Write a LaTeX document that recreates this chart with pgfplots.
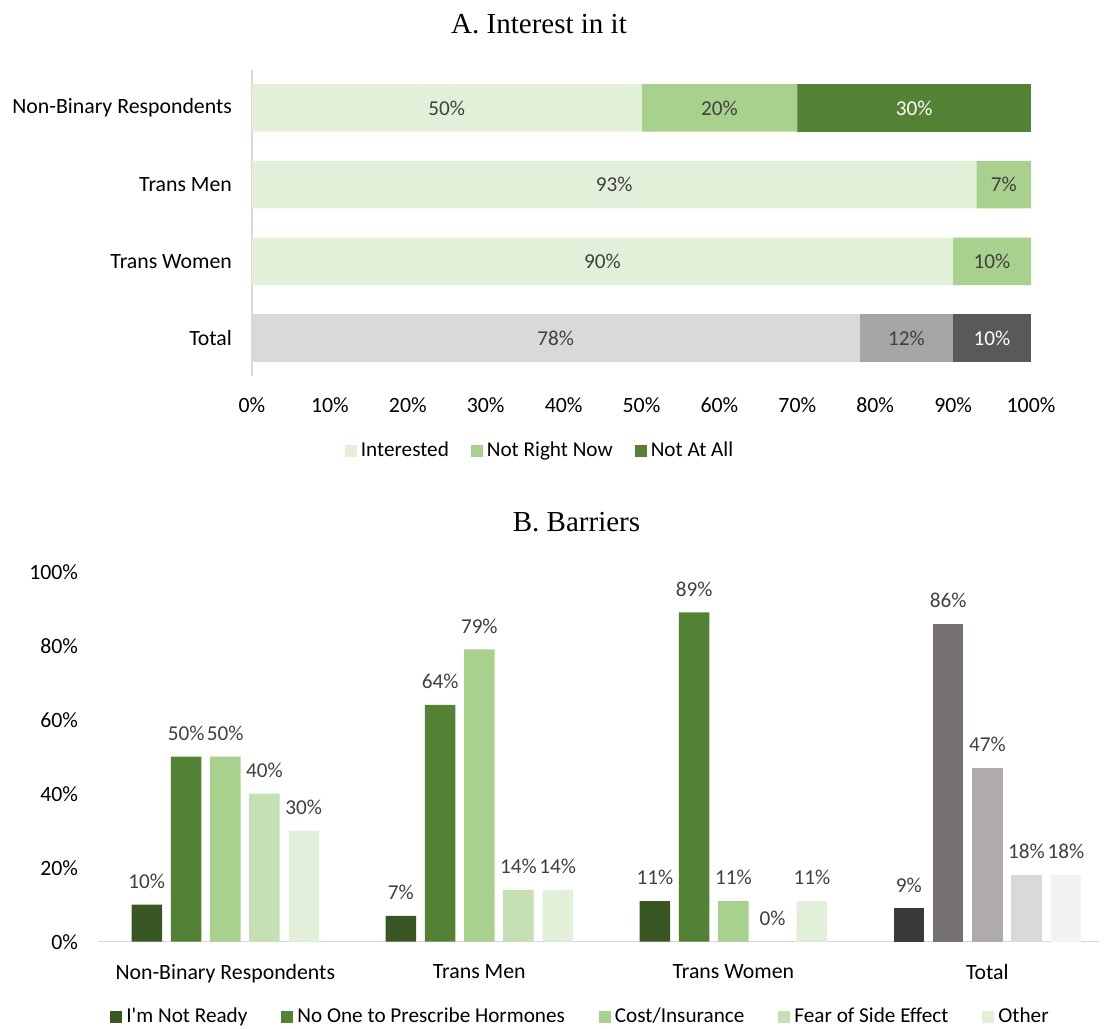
\documentclass[border=0pt]{standalone}
\usepackage{fontspec}
\setmainfont{Carlito}
\newfontfamily\titlefont{Liberation Serif}
\usepackage{pgfplots}
\pgfplotsset{compat=1.18}
\definecolor{gA}{HTML}{E2F0D9}
\definecolor{gB}{HTML}{A9D18E}
\definecolor{gC}{HTML}{548235}
\definecolor{gD}{HTML}{385723}
\definecolor{gE}{HTML}{C5E0B4}
\definecolor{tA}{HTML}{D9D9D9}
\definecolor{tB}{HTML}{A5A5A5}
\definecolor{tC}{HTML}{595959}
\definecolor{kA}{HTML}{3B3838}
\definecolor{kB}{HTML}{767171}
\definecolor{kC}{HTML}{AFABAB}
\definecolor{kD}{HTML}{D9D9D9}
\definecolor{kE}{HTML}{F2F2F2}
\definecolor{lbl}{HTML}{404040}
\definecolor{axl}{HTML}{D9D9D9}
\newcommand\fs{\fontsize{10.6}{12}\selectfont}
\newcommand\ft{\fontsize{10.9}{12}\selectfont}
\begin{document}
\begin{tikzpicture}
\useasboundingbox (0,0) rectangle (555.5pt,-514pt);
\node[anchor=base, font=\titlefont\fontsize{14.5}{16}\selectfont] at (269.5pt,-16.5pt) {A. Interest in it};
\node[anchor=base, font=\titlefont\fontsize{14.5}{16}\selectfont] at (288.25pt,-265.5pt) {B. Barriers};

% ---------------- Panel A: bars ----------------
\begin{axis}[
  at={(126pt,-188.15pt)}, anchor=south west,
  scale only axis, width=389.5pt, height=153.35pt,
  xmin=0, xmax=100, ymin=-0.5, ymax=3.5,
  enlargelimits=false, clip=false,
  xbar stacked, bar width=23.75pt,
  axis x line*=bottom, axis y line*=left,
  x axis line style={draw=none,-}, y axis line style={draw=axl, line width=0.75pt,-},
  major tick length=0pt,
  xtick={0,10,...,100},
  xticklabel={\pgfmathprintnumber{\tick}\%},
  ytick={0,1,2,3},
  yticklabels={Total,Trans Women,Trans Men,Non-Binary Respondents},
  /pgf/number format/assume math mode=true,
  tick label style={font=\ft, text=black},
  xticklabel style={yshift=-7.3pt},
  yticklabel style={xshift=-6.5pt},
  legend style={at={(0.371,-0.2436)}, anchor=center, draw=none, fill=none, font=\fs,
    legend columns=3, /tikz/every even column/.append style={column sep=9pt}},
  legend image code/.code={\fill[#1] (0pt,-3pt) rectangle (6pt,3pt);},
]
\addplot[fill=gA, draw=none] coordinates {(50,3) (93,2) (90,1) (0,0)};
\addplot[fill=gB, draw=none] coordinates {(20,3) (7,2) (10,1) (0,0)};
\addplot[fill=gC, draw=none] coordinates {(30,3) (0,2) (0,1) (0,0)};
\addplot[fill=tA, draw=none, forget plot] coordinates {(0,3) (0,2) (0,1) (78,0)};
\addplot[fill=tB, draw=none, forget plot] coordinates {(0,3) (0,2) (0,1) (12,0)};
\addplot[fill=tC, draw=none, forget plot] coordinates {(0,3) (0,2) (0,1) (10,0)};
\legend{Interested, Not Right Now, Not At All}
\end{axis}

% ---------------- Panel A: segment labels (overlay axis, same geometry) ----------------
\begin{axis}[
  at={(126pt,-188.15pt)}, anchor=south west,
  scale only axis, width=389.5pt, height=153.35pt,
  xmin=0, xmax=100, ymin=-0.5, ymax=3.5,
  enlargelimits=false, clip=false, hide axis,
  /pgf/number format/assume math mode=true,
]
\addplot[only marks, mark=none, point meta=explicit,
  nodes near coords={\pgfmathprintnumber{\pgfplotspointmeta}\%},
  nodes near coords align=center,
  every node near coord/.style={font=\fs, text=lbl, anchor=center}]
  coordinates {(25,3) [50] (60,3) [20] (46.5,2) [93] (96.5,2) [7] (45,1) [90] (95,1) [10] (39,0) [78] (84,0) [12]};
\addplot[only marks, mark=none, point meta=explicit,
  nodes near coords={\pgfmathprintnumber{\pgfplotspointmeta}\%},
  nodes near coords align=center,
  every node near coord/.style={font=\fs, text=white, anchor=center}]
  coordinates {(85,3) [30] (95,0) [10]};
\end{axis}

% ---------------- Panel B ----------------
\begin{axis}[
  at={(49.15pt,-470.85pt)}, anchor=south west,
  scale only axis, width=500.4pt, height=185pt,
  xmin=-0.5, xmax=3.44, ymin=0, ymax=100,
  enlargelimits=false, clip=false,
  ybar, bar width=15.25pt, bar shift=0pt,
  every axis plot/.append style={bar shift=0pt},
  axis x line*=bottom, axis y line*=left,
  x axis line style={draw=axl, line width=0.75pt,-}, y axis line style={draw=none,-},
  major tick length=0pt,
  xtick={0,1,2,3},
  xticklabels={Non-Binary Respondents,Trans Men,Trans Women,Total},
  ytick={0,20,...,100},
  yticklabel={\pgfmathprintnumber{\tick}\%},
  /pgf/number format/assume math mode=true,
  tick label style={font=\ft, text=black},
  xticklabel style={yshift=-8pt},
  yticklabel style={xshift=-6.6pt},
  nodes near coords={\pgfmathprintnumber{\pgfplotspointmeta}\%},
  every node near coord/.append style={font=\fs, text=lbl, yshift=4.5pt},
  legend style={at={(0.4828,-0.2027)}, anchor=center, draw=none, fill=none, font=\fs,
    legend columns=5, /tikz/every even column/.append style={column sep=15pt}},
  legend image code/.code={\fill[#1] (0pt,-3pt) rectangle (6pt,3pt);},
]
\addplot[fill=gD, draw=none] coordinates {(-0.309,10) (0.691,7) (1.691,11)};
\addplot[fill=gC, draw=none] coordinates {(-0.154,50) (0.846,64) (1.846,89)};
\addplot[fill=gB, draw=none] coordinates {(0,50) (1,79) (2,11)};
\addplot[fill=gE, draw=none] coordinates {(0.154,40) (1.154,14) (2.154,0)};
\addplot[fill=gA, draw=none] coordinates {(0.309,30) (1.309,14) (2.309,11)};
\legend{I\textquotesingle m Not Ready, No One to Prescribe Hormones, Cost/Insurance, Fear of Side Effect, Other}
\addplot[fill=kA, draw=none, forget plot] coordinates {(2.691,9)};
\addplot[fill=kB, draw=none, forget plot] coordinates {(2.846,86)};
\addplot[fill=kC, draw=none, forget plot] coordinates {(3,47)};
\addplot[fill=kD, draw=none, forget plot] coordinates {(3.154,18)};
\addplot[fill=kE, draw=none, forget plot] coordinates {(3.309,18)};
\end{axis}
\end{tikzpicture}
\end{document}
